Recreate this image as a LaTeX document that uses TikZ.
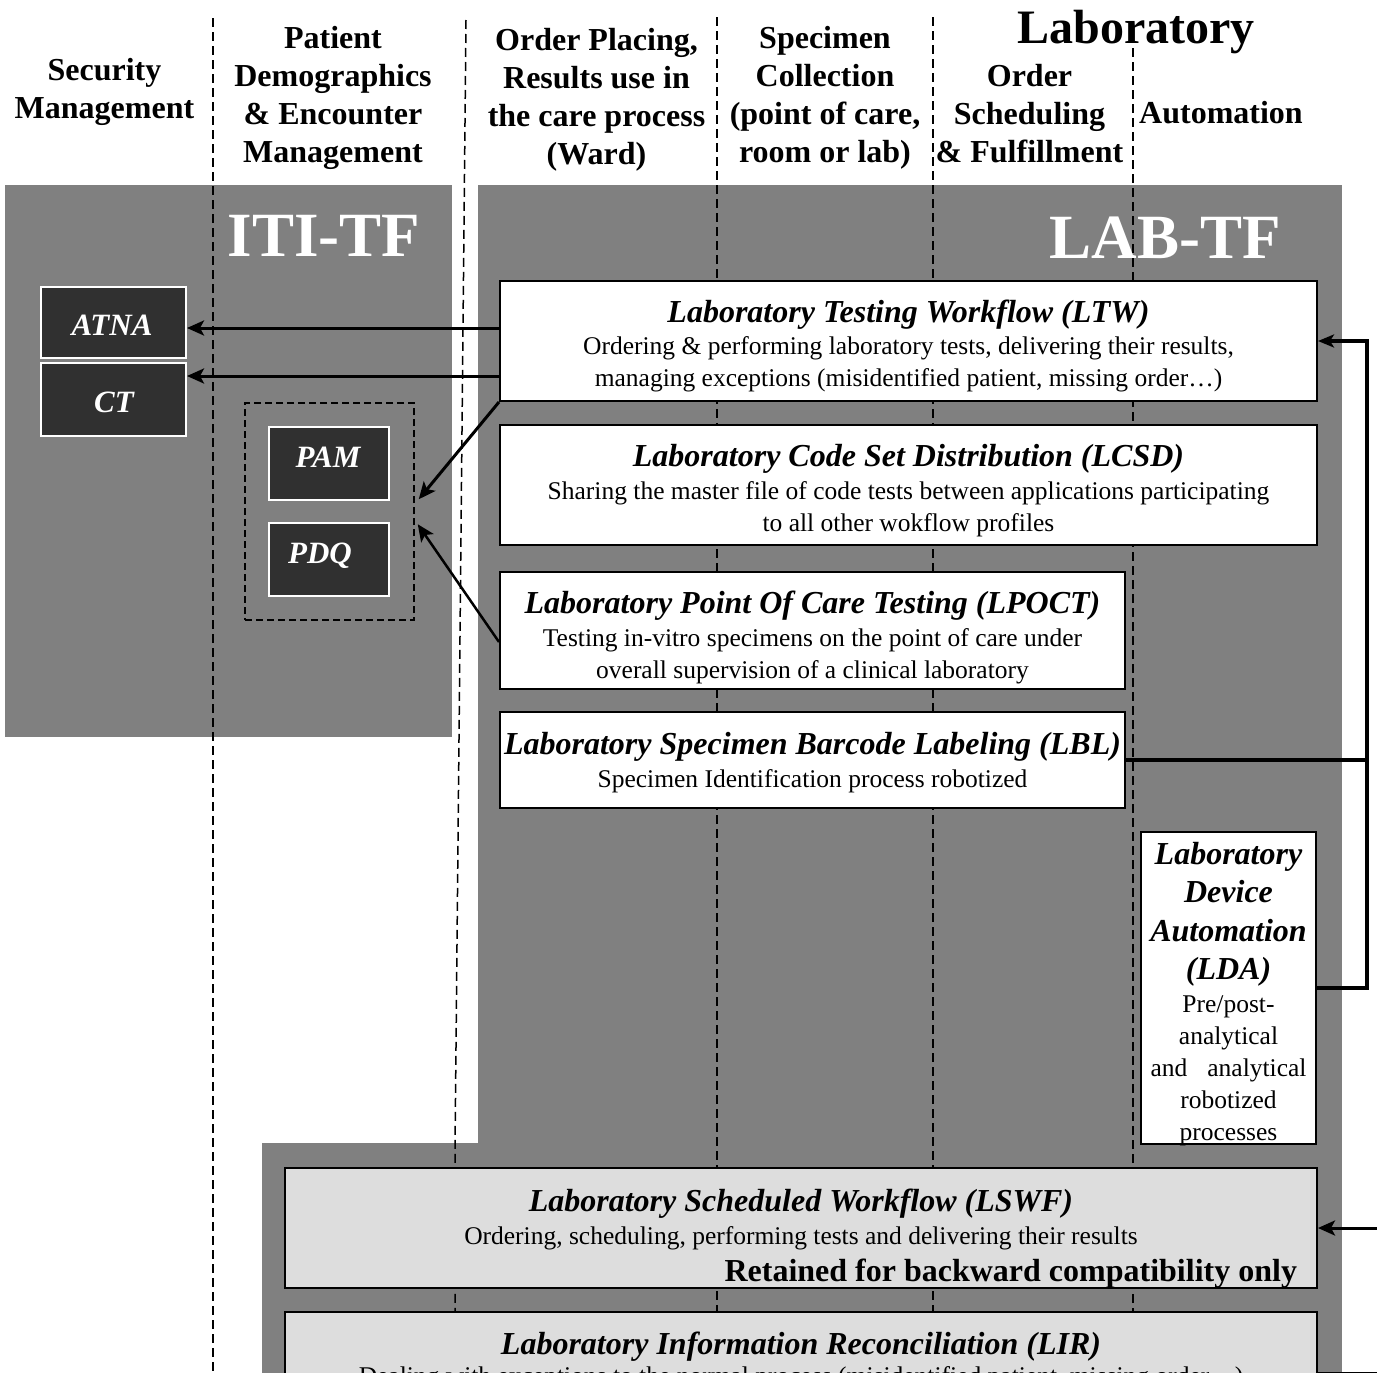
\documentclass[tikz,border=0pt]{standalone}
\usepackage{fontspec}
\setmainfont{Liberation Serif}
\usetikzlibrary{arrows.meta,calc}
\newcommand\mybody{\fontsize{25.5}{32}\selectfont}
\newcommand\myhead{\fontsize{32}{38.3}\selectfont\bfseries}
\newcommand\mytitle{\fontsize{32}{38.5}\selectfont\bfseries\itshape}
\newcommand\mylines[1]{\begin{tabular}[t]{@{}c@{}}#1\end{tabular}}
\definecolor{bggray}{RGB}{128,128,128}
\definecolor{darkbox}{RGB}{48,48,48}
\definecolor{lightbox}{RGB}{221,221,221}
\begin{document}
\begin{tikzpicture}[x=1pt,y=-1pt,
  bg/.style={fill=bggray},
  sep/.style={draw=black, line width=1.5pt, dash pattern=on 9pt off 5pt},
  txt/.style={inner sep=0pt, outer sep=0pt, anchor=base},
  wbox/.style={draw=black, fill=white, line width=2pt, inner sep=0pt},
  lbox/.style={draw=black, fill=lightbox, line width=2pt, inner sep=0pt},
  dbox/.style={draw=white, fill=darkbox, line width=2pt, inner sep=0pt},
  dtxt/.style={txt, text=white, font=\fontsize{31}{36}\selectfont\bfseries\itshape},
  tftxt/.style={txt, text=white, font=\fontsize{63}{70}\selectfont\bfseries},
  arr/.style={line width=3pt, -{Stealth[length=17pt,width=15pt,inset=4pt]}},
  rail/.style={line width=4pt},
]
\useasboundingbox (0,0) rectangle (1377,1373);
% background regions
\fill[bg] (5,185) rectangle (452,737);
\fill[bg] (478,185) rectangle (1342,1143);
\fill[bg] (262,1143) rectangle (1342,1373);
% framework labels
\node[tftxt] (iti) at (324,256) {ITI-TF};
\node[tftxt] (labtf) at (1165,258) {LAB-TF};
% column separators
\draw[sep] (213,18) -- (213,1373);
\draw[sep] (466,20) -- (455,1150) -- (455,1373);
\draw[sep] (717,17) -- (717,1373);
\draw[sep] (933,17) -- (933,1373);
\draw[sep] (1133,48) -- (1133,1373);
% headers
\node[txt,font=\myhead] (hsec) at (104.5,80.5) {\mylines{Security\\Management}};
\node[txt,font=\myhead] (hpat) at (333,48) {\mylines{Patient\\Demographics\\\& Encounter\\Management}};
\node[txt,font=\myhead] (hord) at (596.5,50) {\mylines{Order Placing,\\Results use in\\the care process\\(Ward)}};
\node[txt,font=\myhead] (hspe) at (825,48) {\mylines{Specimen\\Collection\\(point of care,\\room or lab)}};
\node[txt,font=\fontsize{48}{52}\selectfont\bfseries] (hlab) at (1136,43) {Laboratory};
\node[txt,font=\myhead] (hsch) at (1029.5,86) {\mylines{Order\\Scheduling\\\& Fulfillment}};
\node[txt,font=\myhead] (haut) at (1221,123) {Automation};
% ITI profiles
\node[dbox,minimum width=145pt,minimum height=71pt] (atna) at (113.5,322.5) {};
\node[dtxt] (atnaT) at (112,335) {ATNA};
\node[dbox,minimum width=145pt,minimum height=73pt] (ct) at (113.5,399.5) {};
\node[dtxt] (ctT) at (114,412) {CT};
\node[draw=black,line width=1.5pt,dash pattern=on 7pt off 4pt,minimum width=169pt,minimum height=217pt,inner sep=0pt] (pp) at (329.5,511.5) {};
\node[dbox,minimum width=120pt,minimum height=73pt] (pam) at (329,463.5) {};
\node[dtxt] (pamT) at (328,467) {PAM};
\node[dbox,minimum width=120pt,minimum height=73pt] (pdq) at (329,559.5) {};
\node[dtxt] (pdqT) at (320,563) {PDQ};
% LAB profiles
\node[wbox,minimum width=817pt,minimum height=120pt] (ltw) at (908.5,341) {};
\node[txt,font=\mytitle] (ltwT) at (908.5,322) {Laboratory Testing Workflow (LTW)};
\node[txt,font=\mybody] (ltwB) at (908.5,354) {\mylines{Ordering \& performing laboratory tests, delivering their results,\\managing exceptions (misidentified patient, missing order…)}};

\node[wbox,minimum width=817pt,minimum height=120pt] (lcsd) at (908.5,485) {};
\node[txt,font=\mytitle] (lcsdT) at (908.5,466) {Laboratory Code Set Distribution (LCSD)};
\node[txt,font=\mybody] (lcsdB) at (908.5,499) {\mylines{Sharing the master file of code tests between applications participating\\to all other wokflow profiles}};

\node[wbox,minimum width=625pt,minimum height=117pt] (lpoct) at (812.5,630.5) {};
\node[txt,font=\mytitle] (lpoctT) at (812.5,613) {Laboratory Point Of Care Testing (LPOCT)};
\node[txt,font=\mybody] (lpoctB) at (812.5,646) {\mylines{Testing in-vitro specimens on the point of care under\\overall supervision of a clinical laboratory}};

\node[wbox,minimum width=625pt,minimum height=96pt] (lbl) at (812.5,760) {};
\node[txt,font=\mytitle] (lblT) at (812.5,754) {Laboratory Specimen Barcode Labeling (LBL)};
\node[txt,font=\mybody] (lblB) at (812.5,787) {Specimen Identification process robotized};

\node[wbox,minimum width=175pt,minimum height=312pt] (lda) at (1228.5,988) {};
\node[txt,font=\mytitle] (ldaT) at (1228.5,864) {\mylines{Laboratory\\Device\\Automation\\(LDA)}};
\node[txt,font=\mybody] (ldaB) at (1228.5,1012) {\mylines{Pre/post-\\analytical\\and\hspace{20pt}analytical\\robotized\\processes}};

\node[lbox,minimum width=1032pt,minimum height=120pt] (lswf) at (801,1228) {};
\node[txt,font=\mytitle] (lswfT) at (801,1211) {Laboratory Scheduled Workflow (LSWF)};
\node[txt,font=\mybody] (lswfB) at (801,1244) {Ordering, scheduling, performing tests and delivering their results};
\node[txt,anchor=base east,font=\myhead] (lswfR) at (1297,1281) {Retained for backward compatibility only};

\node[lbox,minimum width=1032pt,minimum height=120pt] (lir) at (801,1372) {};
\node[txt,font=\mytitle] (lirT) at (801,1354) {Laboratory Information Reconciliation (LIR)};
\node[txt,font=\mybody] (lirB) at (801,1384) {Dealing with exceptions to the normal process (misidentified patient, missing order…)};
% connectors
\coordinate (c1) at ($(ltw.north west)+(0,48)$);
\coordinate (c2) at ($(ltw.north west)+(0,96)$);
\draw[arr] (c1) -- (c1 -| atna.east);
\draw[arr] (c2) -- (c2 -| ct.east);
\draw[arr] (ltw.south west) -- ($(pp.north east)+(4,97)$);
\draw[arr, line width=2.5pt] ($(lpoct.north west)+(0,71)$) -- ($(pp.north east)+(3,122)$);
\coordinate (railtop) at (1367,341);
\draw[rail, -{Stealth[length=16pt,width=13pt,inset=4pt]}] (lda.east) -| (railtop) -- (ltw.east);
\draw[rail] (lbl.east) -- (lbl.east -| railtop);
\coordinate (lswfin) at (1377,1228);
\draw[arr] (lswfin) -- (lswf.east);
\coordinate (lirin) at (1377,1374);
\draw[rail] (lirin) -- (lirin -| lir.east);
\end{tikzpicture}
\end{document}
